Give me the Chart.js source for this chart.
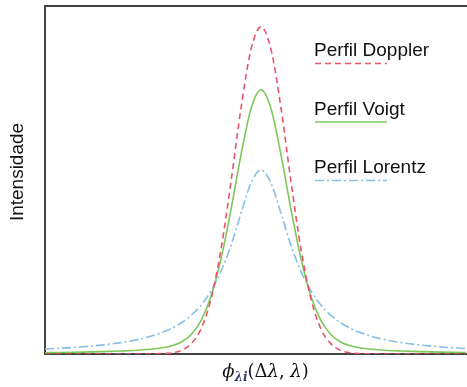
<!DOCTYPE html>
<html>
<head>
<meta charset="utf-8">
<script src="https://cdn.jsdelivr.net/npm/chart.js@4/dist/chart.umd.min.js"></script>
<style>
html,body{margin:0;padding:0;background:#fff;}
canvas{display:block;}
</style>
</head>
<body>
<canvas id="c" width="467" height="387"></canvas>
<script>
// Offset from line centre (arbitrary units along the wavelength axis)
const xs = [-216,-200,-180,-160,-140,-120,-100,-90,-80,-70,-60,-50,-40,-30,-20,-10,0,10,20,30,40,50,60,70,80,90,100,120,140,160,180,200,205];
const doppler = [0,0,0,0,0,0,0.001,0.003,0.010,0.029,0.072,0.158,0.301,0.495,0.707,0.875,0.940,0.875,0.707,0.495,0.301,0.158,0.072,0.029,0.010,0.003,0.001,0,0,0,0,0,0];
const voigt = [0.0037,0.0043,0.0053,0.0067,0.0087,0.0116,0.0173,0.0229,0.0338,0.0553,0.096,0.166,0.273,0.415,0.572,0.705,0.759,0.705,0.572,0.415,0.273,0.166,0.096,0.0553,0.0338,0.0229,0.0173,0.0116,0.0087,0.0067,0.0053,0.0043,0.0041];
const lorentz = [0.0143,0.0166,0.0203,0.0255,0.0328,0.0437,0.0607,0.073,0.0891,0.111,0.140,0.181,0.237,0.312,0.404,0.491,0.529,0.491,0.404,0.312,0.237,0.181,0.140,0.111,0.0891,0.073,0.0607,0.0437,0.0328,0.0255,0.0203,0.0166,0.0158];
const seriesNames = ["Perfil Doppler","Perfil Voigt","Perfil Lorentz"];
const yTitle = "Intensidade";
const mathFont = "'DejaVu Serif', 'Liberation Serif', serif";
const xTitleParts = [
  {t:"ϕ", font:"italic 18px " + mathFont, dy:0, color:"#111"},
  {t:"λi", font:"italic bold 12px " + mathFont, dy:4, color:"#2b3a67"},
  {t:"(", font:"18px " + mathFont, dy:0, color:"#111"},
  {t:"Δ", font:"18px " + mathFont, dy:0, color:"#111"},
  {t:"λ", font:"italic 18px " + mathFont, dy:0, color:"#111"},
  {t:", ", font:"18px " + mathFont, dy:0, color:"#111"},
  {t:"λ", font:"italic 18px " + mathFont, dy:0, color:"#111"},
  {t:")", font:"18px " + mathFont, dy:0, color:"#111"}
];

const pts = arr => xs.map((x,i)=>({x:x, y:arr[i]}));
const textFont = "19px 'Liberation Sans', Arial, sans-serif";

const bgPlugin = {
  id:'bg',
  beforeDraw(chart){
    const c = chart.ctx; c.save(); c.fillStyle='#fff'; c.fillRect(0,0,chart.width,chart.height); c.restore();
  }
};

const decorPlugin = {
  id:'decor',
  afterDraw(chart){
    const ctx = chart.ctx, a = chart.chartArea;
    ctx.save();
    // legend: label above line sample
    const lx = a.right - 152;
    chart.data.datasets.forEach((ds,i)=>{
      const by = a.top + 50 + i*58.5;
      ctx.font = textFont; ctx.fillStyle = '#111'; ctx.textBaseline='alphabetic'; ctx.textAlign='left';
      ctx.fillText(ds.label, lx, by);
      ctx.beginPath();
      ctx.strokeStyle = ds.borderColor; ctx.lineWidth = ds.borderWidth;
      ctx.setLineDash(ds.borderDash || []);
      ctx.moveTo(lx+1, by+7.5); ctx.lineTo(lx+73, by+7.5); ctx.stroke();
      ctx.setLineDash([]);
    });
    // y title
    ctx.save();
    ctx.translate(18, (a.top+a.bottom)/2 - 8);
    ctx.rotate(-Math.PI/2);
    ctx.font = textFont; ctx.fillStyle='#111'; ctx.textAlign='center'; ctx.textBaseline='middle';
    ctx.fillText(yTitle, 0, 0);
    ctx.restore();
    // x title (math)
    let w = 0;
    xTitleParts.forEach(p=>{ ctx.font=p.font; w += ctx.measureText(p.t).width; });
    let x = (a.left+a.right)/2 + 10 - w/2;
    const base = a.bottom + 23;
    ctx.textAlign='left'; ctx.textBaseline='alphabetic';
    xTitleParts.forEach(p=>{ ctx.font=p.font; ctx.fillStyle=p.color; ctx.fillText(p.t, x, base+p.dy); x += ctx.measureText(p.t).width; });
    ctx.restore();
  }
};

new Chart(document.getElementById('c'), {
  type:'line',
  data:{
    datasets:[
      {label:seriesNames[0], data:pts(doppler), borderColor:'#e9546b', borderWidth:1.6, borderDash:[6,4], pointRadius:0, fill:false, cubicInterpolationMode:'monotone'},
      {label:seriesNames[1], data:pts(voigt), borderColor:'#7ec85a', borderWidth:1.6, pointRadius:0, fill:false, cubicInterpolationMode:'monotone'},
      {label:seriesNames[2], data:pts(lorentz), borderColor:'#86bfe6', borderWidth:1.6, borderDash:[9,3,2,3], pointRadius:0, fill:false, cubicInterpolationMode:'monotone'}
    ]
  },
  options:{
    responsive:false, animation:false,
    layout:{padding:{left:0,right:1,top:0,bottom:0}},
    plugins:{legend:{display:false}, tooltip:{enabled:false}},
    scales:{
      x:{type:'linear', min:-216, max:205, position:'bottom',
         grid:{display:false}, ticks:{display:false},
         border:{display:true, color:'#444', width:2},
         afterFit(s){ s.height = 33; }},
      x2:{type:'linear', min:-216, max:205, position:'top',
         grid:{display:false}, ticks:{display:false},
         border:{display:true, color:'#444', width:2},
         afterFit(s){ s.height = 6; }},
      y:{min:0, max:1, grid:{display:false}, ticks:{display:false},
         border:{display:true, color:'#444', width:2},
         afterFit(s){ s.width = 45; }}
    }
  },
  plugins:[bgPlugin, decorPlugin]
});
</script>
</body>
</html>
